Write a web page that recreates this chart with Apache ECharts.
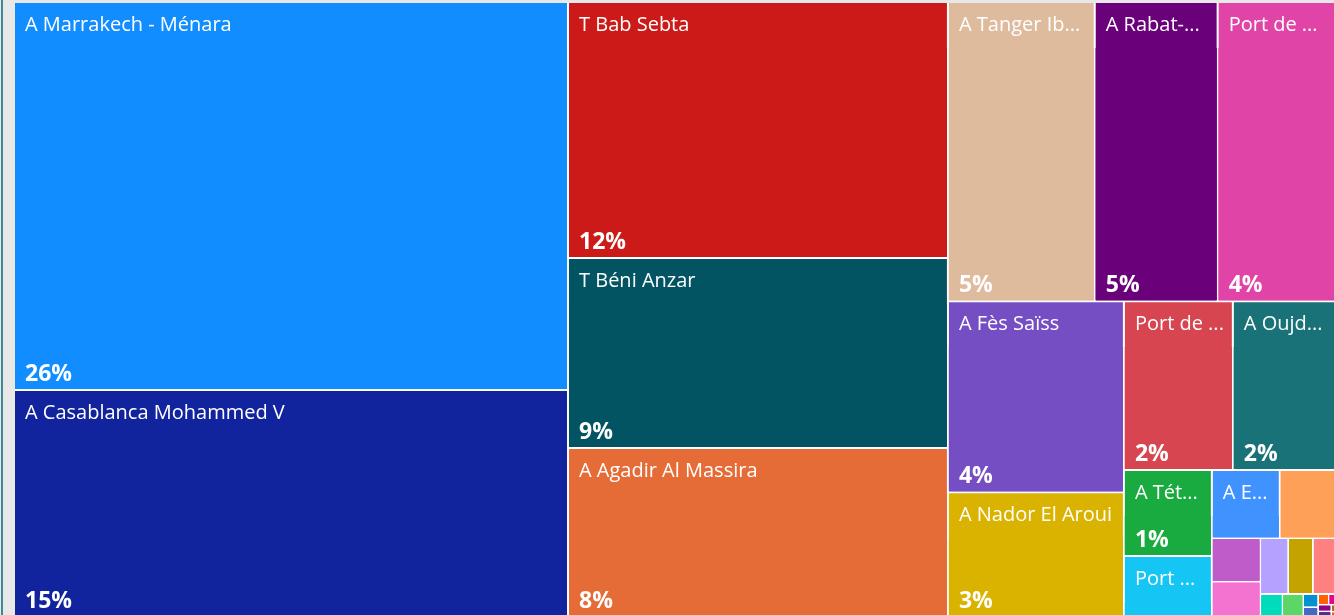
<!DOCTYPE html>
<html>
<head>
<meta charset="utf-8">
<script src="https://cdn.jsdelivr.net/npm/echarts@6/dist/echarts.min.js"></script>
<style>
  html, body { margin: 0; padding: 0; background: #E8E8E8; }
  #chart { width: 1334px; height: 615px; }
</style>
</head>
<body>
<div id="chart"></div>
<script>
// Categories (largest to smallest)
const names = [
  "A Marrakech - Ménara", "A Casablanca Mohammed V", "T Bab Sebta", "T Béni Anzar",
  "A Agadir Al Massira", "A Tanger Ibn Battouta", "A Rabat-Salé", "Port de Tanger Med",
  "A Fès Saïss", "A Nador El Aroui", "Port de Tanger Ville", "A Oujda Angad",
  "A Tétouan Saniat R'mel", "Port de Nador", "A Essaouira Mogador", "A Ouarzazate",
  "A Al Hoceima", "Port d'Al Hoceima", "A Dakhla", "A Laâyoune", "A Errachidia",
  "Port de Casablanca", "A Béni Mellal", "T Guerguerat", "Port d'Agadir",
  "A Tanger Ville", "A Zagora", "A Guelmim", "A Tan Tan", "Port de Safi", "A Bouarfa"
];
// Share of total (%)
const values = [
  26.42, 15.46, 11.96, 8.87,
  7.89, 5.40, 4.52, 4.39,
  4.13, 2.70, 2.26, 2.16,
  0.93, 0.66, 0.57, 0.48,
  0.26, 0.21, 0.19, 0.17, 0.165,
  0.062, 0.059, 0.024, 0.018,
  0.014, 0.011, 0.0105, 0.0092, 0.005, 0.0037
];
const colors = [
  "#118DFF", "#12239E", "#CB1A17", "#035462",
  "#E66C37", "#DFBB9D", "#6B007B", "#E044A7",
  "#744EC2", "#D9B300", "#D64550", "#197278",
  "#1AAB40", "#15C6F4", "#4092FF", "#FFA058",
  "#BE5DC9", "#F472D0", "#B5A1FF", "#C4A200", "#FF8080",
  "#00DBBC", "#5BD667", "#0091D5", "#4668C5",
  "#FF6300", "#EC008C", "#99008A", "#533285", "#99700A", "#FF4141"
];
// Which cells show their name / percentage label
const showName = [1,1,1,1,1,1,1,1,1,1,1,1,1,1,1,0,0,0,0,0,0,0,0,0,0,0,0,0,0,0,0];
const showPct  = [1,1,1,1,1,1,1,1,1,1,1,1,1,0,0,0,0,0,0,0,0,0,0,0,0,0,0,0,0,0,0];

const total = values.reduce((a, b) => a + b, 0);
const FONT = "'Open Sans', 'Noto Sans', sans-serif";

const data = names.map((n, i) => ({
  name: n,
  value: values[i],
  itemStyle: { color: colors[i], borderColor: colors[i] },
  upperLabel: { show: !!showName[i] },
  children: [{
    name: n,
    value: values[i],
    itemStyle: { color: colors[i], borderColor: colors[i] },
    label: { show: !!showPct[i] }
  }]
}));

const chart = echarts.init(document.getElementById('chart'), null, { renderer: 'canvas' });
chart.setOption({
  backgroundColor: '#E8E8E8',
  animation: false,
  graphic: [{
    type: 'rect', shape: { x: 1, y: 0, width: 2, height: 615 },
    style: { fill: '#3A8A94' }, silent: true
  }],
  series: [{
    type: 'treemap',
    left: 15, top: 3, width: 1321, height: 613,
    roam: false, nodeClick: false,
    breadcrumb: { show: false },
    drillDownIcon: '',
    visibleMin: 1,
    silent: true,
    data: data,
    levels: [
      { itemStyle: { borderWidth: 0, gapWidth: 2, borderColor: '#ffffff' }, upperLabel: { show: false } },
      {
        itemStyle: { borderWidth: 0, gapWidth: 0 },
        upperLabel: {
          show: true, height: 45, color: '#ffffff',
          fontFamily: FONT, fontSize: 20, fontWeight: 'normal',
          padding: [0, 5, 0, 10], overflow: 'truncate', ellipsis: '...',
          formatter: p => p.name
        }
      },
      {
        itemStyle: { borderWidth: 0, gapWidth: 0 },
        label: {
          show: true, position: 'insideBottomLeft', color: '#ffffff',
          fontFamily: FONT, fontSize: 23, fontWeight: 'bold',
          padding: [0, 0, 3, 10],
          formatter: p => Math.round(p.value / total * 100) + '%'
        }
      }
    ]
  }]
});
</script>
</body>
</html>
